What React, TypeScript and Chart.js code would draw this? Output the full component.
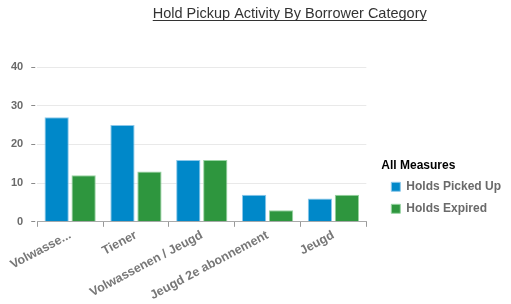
import React, { useEffect, useRef } from "react";
import { Chart, registerables } from "chart.js";

Chart.register(...registerables);

const TITLE = "Hold Pickup Activity By Borrower Category";
const LEGEND_TITLE = "All Measures";
const categories = ["Volwasse...", "Tiener", "Volwassenen / Jeugd", "Jeugd 2e abonnement", "Jeugd"];
const seriesNames = ["Holds Picked Up", "Holds Expired"];
const holdsPickedUp = [27, 25, 16, 7, 6];
const holdsExpired = [12, 13, 16, 3, 7];
const yMin = 0;
const yMax = 40;
const yStep = 10;

const FONT = '"Liberation Sans", Arial, Helvetica, sans-serif';

const titlePlugin = {
  id: "underlinedTitle",
  afterLayout(chart: any) {
    const lg = chart.legend;
    if (lg) {
      lg.top += 3;
      lg.bottom += 3;
    }
  },
  afterDraw(chart: any) {
    const ctx = chart.ctx;
    ctx.save();
    ctx.font = `14.5px ${FONT}`;
    ctx.fillStyle = "#333333";
    ctx.textAlign = "center";
    ctx.textBaseline = "middle";
    const x = chart.width * 0.567;
    const y = 14;
    ctx.fillText(TITLE, x, y);
    const w = ctx.measureText(TITLE).width;
    ctx.strokeStyle = "#333333";
    ctx.lineWidth = 1;
    ctx.beginPath();
    ctx.moveTo(x - w / 2, y + 6.5);
    ctx.lineTo(x + w / 2, y + 6.5);
    ctx.stroke();
    ctx.restore();
  },
};

export default function App() {
  const canvasRef = useRef<HTMLCanvasElement | null>(null);

  useEffect(() => {
    document.body.style.margin = "0";
    const canvas = canvasRef.current;
    if (!canvas) return;
    const chart = new Chart(canvas, {
      type: "bar",
      data: {
        labels: categories,
        datasets: [
          {
            label: seriesNames[0],
            data: holdsPickedUp,
            backgroundColor: "#0088c9",
            borderColor: "#8cc8ea",
            borderWidth: 1,
            barPercentage: 0.9,
            categoryPercentage: 0.82,
          },
          {
            label: seriesNames[1],
            data: holdsExpired,
            backgroundColor: "#2e963e",
            borderColor: "#98d4a2",
            borderWidth: 1,
            barPercentage: 0.9,
            categoryPercentage: 0.82,
          },
        ],
      },
      options: {
        responsive: false,
        animation: false,
        devicePixelRatio: 1,
        layout: { padding: { top: 67, left: 3, right: 0, bottom: 0 } },
        plugins: {
          title: { display: false },
          tooltip: { enabled: false },
          legend: {
            display: true,
            position: "right",
            align: "end",
            fullSize: false,
            maxWidth: 160,
            title: {
              display: true,
              text: LEGEND_TITLE,
              color: "#000000",
              font: { family: FONT, size: 12, weight: "bold", lineHeight: 1 },
              padding: { top: 1, bottom: -1 },
              position: "start",
            },
            labels: {
              boxWidth: 9,
              boxHeight: 9,
              padding: 10,
              color: "#6a6a6a",
              font: { family: FONT, size: 12, weight: "bold" },
            },
          },
        },
        scales: {
          x: {
            type: "category",
            grid: {
              display: true,
              drawOnChartArea: false,
              drawTicks: true,
              tickLength: 5,
              tickColor: "#999999",
              offset: true,
            },
            border: { display: true, color: "#aaaaaa", width: 1 },
            ticks: {
              autoSkip: false,
              maxRotation: 28,
              minRotation: 28,
              padding: 1,
              color: "#777777",
              font: { family: FONT, size: 12.5, weight: "bold" },
            },
            afterFit(scale: any) {
              scale.paddingLeft = 0;
              scale.paddingRight = 0;
            },
          },
          y: {
            type: "linear",
            min: yMin,
            max: yMax,
            grid: {
              color: "#e9e9e9",
              tickColor: "#8a8a8a",
              tickLength: 6,
              tickBorderDash: [4, 2],
            },
            border: { display: false },
            ticks: {
              stepSize: yStep,
              padding: 8,
              color: "#6a6a6a",
              font: { family: FONT, size: 11, weight: "bold" },
            },
          },
          gap: {
            type: "linear",
            position: "right",
            display: true,
            grid: { display: false, drawTicks: false },
            border: { display: false },
            ticks: { display: false },
            afterFit(scale: any) {
              scale.width = 15;
            },
          },
        },
      },
      plugins: [titlePlugin],
    } as any);
    return () => chart.destroy();
  }, []);

  return (
    <div style={{ width: 511, height: 304, background: "#ffffff" }}>
      <canvas ref={canvasRef} width={511} height={304} />
    </div>
  );
}
